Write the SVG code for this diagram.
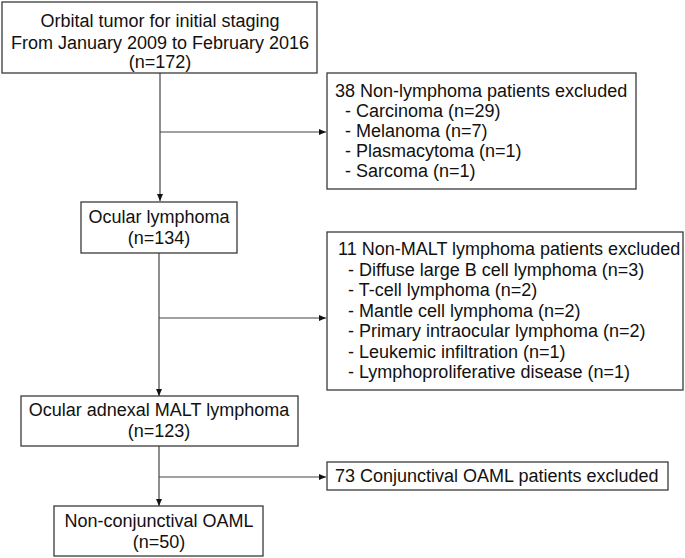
<svg xmlns="http://www.w3.org/2000/svg" width="685" height="558" viewBox="0 0 685 558">
<style>
.box{fill:#fff;stroke:#3a3a3a;stroke-width:1.3}
.ln{fill:none;stroke:#444;stroke-width:1.2}
text{font-family:"Liberation Sans",Arial,sans-serif;font-size:18px;fill:#111}
.c{text-anchor:middle}
</style>
<defs>
<marker id="ah" markerWidth="8" markerHeight="8" refX="7" refY="4" orient="auto" markerUnits="userSpaceOnUse">
<path d="M0,1 L7,4 L0,7 Z" fill="#111"/>
</marker>
</defs>
<rect width="685" height="558" fill="#fff"/>
<g id="connectors">
<line class="ln" x1="160" y1="73" x2="160" y2="201" marker-end="url(#ah)"/>
<line class="ln" x1="160" y1="132" x2="326" y2="132" marker-end="url(#ah)"/>
<line class="ln" x1="159" y1="253" x2="159" y2="396" marker-end="url(#ah)"/>
<line class="ln" x1="159" y1="318" x2="326" y2="318" marker-end="url(#ah)"/>
<line class="ln" x1="159" y1="446" x2="159" y2="506" marker-end="url(#ah)"/>
<line class="ln" x1="159" y1="477" x2="326" y2="477" marker-end="url(#ah)"/>
</g>
<g id="n1">
<rect class="box" x="2" y="2" width="315" height="71"/>
<text class="c" x="160" y="27">Orbital tumor for initial staging</text>
<text class="c" x="160" y="48.5">From January 2009 to February 2016</text>
<text class="c" x="160" y="68">(n=172)</text>
</g>
<g id="n2">
<rect class="box" x="327" y="73" width="309" height="116"/>
<text x="335" y="97">38 Non-lymphoma patients excluded</text>
<text x="345" y="117">- Carcinoma (n=29)</text>
<text x="345" y="137">- Melanoma (n=7)</text>
<text x="345" y="157">- Plasmacytoma (n=1)</text>
<text x="345" y="177">- Sarcoma (n=1)</text>
</g>
<g id="n3">
<rect class="box" x="81" y="202" width="156" height="51"/>
<text class="c" x="159" y="223">Ocular lymphoma</text>
<text class="c" x="159" y="244">(n=134)</text>
</g>
<g id="n4">
<rect class="box" x="327" y="232" width="356" height="158"/>
<text x="338" y="255">11 Non-MALT lymphoma patients excluded</text>
<text x="348" y="275.5">- Diffuse large B cell lymphoma (n=3)</text>
<text x="348" y="296">- T-cell lymphoma (n=2)</text>
<text x="348" y="316.5">- Mantle cell lymphoma (n=2)</text>
<text x="348" y="337">- Primary intraocular lymphoma (n=2)</text>
<text x="348" y="357.5">- Leukemic infiltration (n=1)</text>
<text x="348" y="378">- Lymphoproliferative disease (n=1)</text>
</g>
<g id="n5">
<rect class="box" x="21" y="396" width="277" height="50"/>
<text class="c" x="159" y="416">Ocular adnexal MALT lymphoma</text>
<text class="c" x="159" y="437">(n=123)</text>
</g>
<g id="n6">
<rect class="box" x="327" y="462" width="341" height="28"/>
<text x="335" y="482">73 Conjunctival OAML patients excluded</text>
</g>
<g id="n7">
<rect class="box" x="54" y="506" width="209" height="50"/>
<text class="c" x="159" y="527">Non-conjunctival OAML</text>
<text class="c" x="159" y="548">(n=50)</text>
</g>
</svg>
